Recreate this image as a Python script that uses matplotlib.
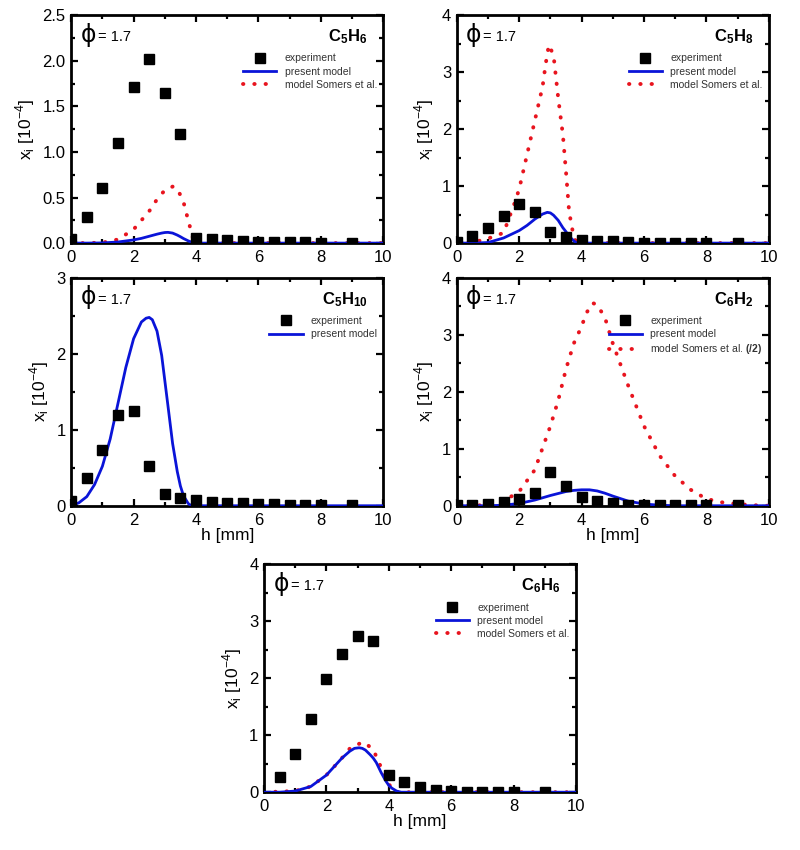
import matplotlib
matplotlib.use("Agg")
import matplotlib.pyplot as plt
from matplotlib.ticker import MultipleLocator, FormatStrFormatter

plt.rcParams["font.family"] = ["Liberation Sans", "DejaVu Sans"]
plt.rcParams["mathtext.fontset"] = "custom"
plt.rcParams["mathtext.rm"] = "Liberation Sans"
plt.rcParams["mathtext.bf"] = "Liberation Sans:bold"

# experiment heights (mm)
exp_h = [0, 0.5, 1, 1.5, 2, 2.5, 3, 3.5, 4, 4.5, 5, 5.5, 6, 6.5, 7, 7.5, 8, 9]
exp_h_c6h6 = [0.5, 1, 1.5, 2, 2.5, 3, 3.5, 4, 4.5, 5, 5.5, 6, 6.5, 7, 7.5, 8, 9]

# C5H6
c5h6_exp = [0.04, 0.29, 0.61, 1.10, 1.71, 2.02, 1.65, 1.20, 0.06, 0.05, 0.03, 0.02, 0.01, 0.01, 0.01, 0.01, 0.005, 0.005]
c5h6_model_h = [0, 0.5, 1, 1.5, 2, 2.25, 2.5, 2.75, 2.9, 3, 3.1, 3.25, 3.4, 3.5, 3.6, 3.75, 3.9, 4, 10]
c5h6_model = [0, 0, 0.002, 0.012, 0.035, 0.052, 0.075, 0.098, 0.11, 0.116, 0.118, 0.11, 0.088, 0.07, 0.05, 0.025, 0.004, 0, 0]
c5h6_somers_h = [0, 0.5, 1, 1.5, 2, 2.5, 2.75, 3, 3.25, 3.4, 3.6, 3.75, 3.9, 4, 10]
c5h6_somers = [0, 0, 0.005, 0.04, 0.15, 0.35, 0.48, 0.58, 0.62, 0.6, 0.45, 0.25, 0.06, 0, 0]

# C5H8
c5h8_exp = [0.02, 0.13, 0.26, 0.48, 0.69, 0.54, 0.20, 0.10, 0.05, 0.03, 0.03, 0.02, 0.01, 0.01, 0.01, 0.01, 0.01, 0.01]
c5h8_model_h = [0, 0.5, 1, 1.5, 2, 2.25, 2.5, 2.75, 2.9, 3, 3.1, 3.25, 3.4, 3.5, 3.6, 3.75, 3.85, 10]
c5h8_model = [0, 0, 0.01, 0.09, 0.22, 0.31, 0.42, 0.51, 0.54, 0.53, 0.49, 0.4, 0.27, 0.2, 0.12, 0.04, 0, 0]
c5h8_somers_h = [0, 0.5, 1, 1.5, 1.85, 2, 2.25, 2.5, 2.75, 2.85, 2.95, 3.1, 3.25, 3.4, 3.5, 3.6, 3.75, 3.85, 10]
c5h8_somers = [0, 0.01, 0.08, 0.18, 0.7, 0.95, 1.55, 2.15, 2.75, 3.15, 3.48, 3.3, 2.55, 1.9, 1.25, 0.55, 0.1, 0, 0]

# C5H10
c5h10_exp = [0.06, 0.36, 0.74, 1.20, 1.25, 0.52, 0.15, 0.10, 0.07, 0.05, 0.04, 0.03, 0.02, 0.02, 0.01, 0.01, 0.01, 0.01]
c5h10_model_h = [0, 0.25, 0.5, 0.75, 1, 1.25, 1.5, 1.75, 2, 2.25, 2.4, 2.5, 2.6, 2.75, 2.9, 3, 3.1,
                 3.25, 3.4, 3.5, 3.6, 3.75, 3.85, 10]
c5h10_model = [0, 0.04, 0.12, 0.28, 0.52, 0.88, 1.35, 1.82, 2.2, 2.42, 2.47, 2.48, 2.45, 2.3, 1.98,
               1.65, 1.32, 0.82, 0.45, 0.26, 0.13, 0.03, 0, 0]

# C6H2
c6h2_exp = [0.02, 0.02, 0.03, 0.06, 0.12, 0.23, 0.60, 0.35, 0.16, 0.08, 0.04, 0.02, 0.01, 0.01, 0.01, 0.01, 0.01, 0.01]
c6h2_model_h = [0, 1, 1.5, 2, 2.5, 3, 3.5, 3.75, 4, 4.25, 4.5, 4.75, 5, 5.5, 6, 6.5, 7, 10]
c6h2_model = [0, 0, 0.01, 0.04, 0.1, 0.18, 0.25, 0.27, 0.28, 0.28, 0.26, 0.22, 0.17, 0.08, 0.03, 0.01, 0, 0]
c6h2_somers_h = [0, 1, 1.5, 2, 2.5, 3, 3.25, 3.5, 3.75, 4, 4.15, 4.35, 4.5, 4.75, 5, 5.5, 6, 6.5,
                 7, 7.5, 8, 8.5, 9, 9.5, 10]
c6h2_somers = [0, 0.01, 0.08, 0.25, 0.63, 1.4, 1.85, 2.4, 2.85, 3.15, 3.38, 3.56, 3.53, 3.3, 2.85,
               2.1, 1.4, 0.88, 0.52, 0.28, 0.12, 0.06, 0.03, 0.01, 0]

# C6H6
c6h6_exp = [0.27, 0.67, 1.28, 1.99, 2.42, 2.74, 2.66, 0.30, 0.18, 0.09, 0.04, 0.02, 0.01, 0.01, 0.01, 0.01, 0.01]
c6h6_model_h = [0, 0.5, 1, 1.5, 2, 2.25, 2.5, 2.75, 2.9, 3.05, 3.15, 3.25, 3.4, 3.5, 3.6, 3.75,
                3.9, 4, 4.1, 4.25, 4.4, 10]
c6h6_model = [0, 0, 0.02, 0.1, 0.3, 0.45, 0.6, 0.72, 0.77, 0.78, 0.77, 0.74, 0.66, 0.6, 0.52,
              0.35, 0.2, 0.12, 0.07, 0.02, 0, 0]
c6h6_somers_h = [0, 1, 1.5, 2, 2.5, 2.8, 3.2, 3.5, 3.7, 3.9, 4.1, 4.2, 10]
c6h6_somers = [0, 0.02, 0.1, 0.3, 0.6, 0.8, 0.88, 0.75, 0.5, 0.25, 0.05, 0, 0]


def plot_panel(ax, h, x_exp, model_h, model_x, somers_h=None, somers_x=None, *,
               label, ymax, ymajor, somers_label="model Somers et al.", xlabel=True,
               yfmt=None):
    ax.plot(h, x_exp, "s", color="black", markersize=7, label="experiment", zorder=4)
    ax.plot(model_h, model_x, "-", color="#0a14d8", lw=2, label="present model", zorder=3)
    if somers_h is not None:
        ax.plot(somers_h, somers_x, color="#e8141e", lw=2.8, linestyle=(0, (0.1, 2.8)),
                dash_capstyle="round", label=somers_label, zorder=2)

    ax.set_xlim(0, 10)
    ax.set_ylim(0, ymax)
    ax.xaxis.set_major_locator(MultipleLocator(2))
    ax.xaxis.set_minor_locator(MultipleLocator(1))
    ax.yaxis.set_major_locator(MultipleLocator(ymajor))
    ax.yaxis.set_minor_locator(MultipleLocator(ymajor / 2))
    if yfmt:
        ax.yaxis.set_major_formatter(yfmt)
    ax.tick_params(which="both", direction="in", top=True, right=True, width=1.6,
                   labelsize=12)
    ax.tick_params(axis="x", pad=5)
    ax.tick_params(axis="y", pad=4)
    ax.tick_params(which="major", length=5)
    ax.tick_params(which="minor", length=3)
    for s in ax.spines.values():
        s.set_linewidth(2)

    ax.set_ylabel(r"x$_\mathregular{i}$ [10$^{-4}$]", fontsize=12.5, labelpad=4)
    if xlabel:
        ax.set_xlabel("h [mm]", fontsize=12.5, labelpad=0)

    ax.text(0.03, 0.915, "ϕ", transform=ax.transAxes, fontsize=17, va="center",
            family=["DejaVu Sans"])
    ax.text(0.085, 0.905, "= 1.7", transform=ax.transAxes, fontsize=10.5, va="center")
    ax.text(0.95, 0.905, label, transform=ax.transAxes, fontsize=12, ha="right",
            va="center")

    ax.legend(loc="upper right", bbox_to_anchor=(1.0, 0.86), frameon=False,
              fontsize=7.5, handlelength=3.2, handletextpad=0.8, labelspacing=0.3,
              borderaxespad=0.2, labelcolor="#333333")


fig = plt.figure(figsize=(8, 8.5), dpi=100)
w, hgt = 0.39, 0.268
ax1 = fig.add_axes([0.089, 0.714, w, hgt])
ax2 = fig.add_axes([0.571, 0.714, w, hgt])
ax3 = fig.add_axes([0.089, 0.405, w, hgt])
ax4 = fig.add_axes([0.571, 0.405, w, hgt])
ax5 = fig.add_axes([0.33, 0.068, w, hgt])

plot_panel(ax1, exp_h, c5h6_exp, c5h6_model_h, c5h6_model, c5h6_somers_h, c5h6_somers,
           label=r"$\mathbf{C_5H_6}$", ymax=2.5, ymajor=0.5, xlabel=False,
           yfmt=FormatStrFormatter("%.1f"))
plot_panel(ax2, exp_h, c5h8_exp, c5h8_model_h, c5h8_model, c5h8_somers_h, c5h8_somers,
           label=r"$\mathbf{C_5H_8}$", ymax=4, ymajor=1, xlabel=False)
plot_panel(ax3, exp_h, c5h10_exp, c5h10_model_h, c5h10_model,
           label=r"$\mathbf{C_5H_{10}}$", ymax=3, ymajor=1)
plot_panel(ax4, exp_h, c6h2_exp, c6h2_model_h, c6h2_model, c6h2_somers_h, c6h2_somers,
           label=r"$\mathbf{C_6H_2}$", ymax=4, ymajor=1,
           somers_label=r"model Somers et al. $\mathbf{(/2)}$")
plot_panel(ax5, exp_h_c6h6, c6h6_exp, c6h6_model_h, c6h6_model, c6h6_somers_h, c6h6_somers,
           label=r"$\mathbf{C_6H_6}$", ymax=4, ymajor=1)

fig.savefig("out.png", dpi=100)
plt.close(fig)
